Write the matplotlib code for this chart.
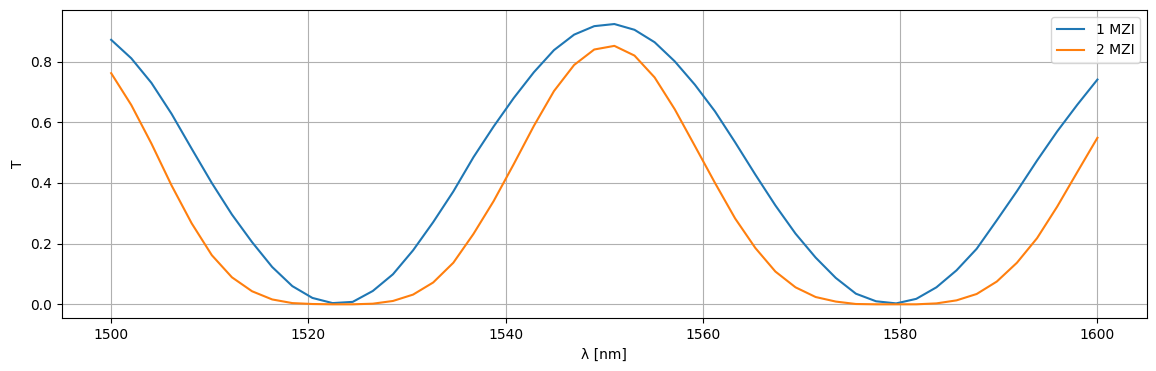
import matplotlib
matplotlib.use("Agg")
import matplotlib.pyplot as plt
import numpy as np

# wavelength grid, 50 samples 1500..1600 nm
wl = np.linspace(1500, 1600, 50)

t_1mzi = [0.872, 0.811, 0.730, 0.628, 0.513, 0.400, 0.296, 0.205, 0.123, 0.060,
          0.021, 0.004, 0.008, 0.044, 0.099, 0.178, 0.271, 0.372, 0.485, 0.586,
          0.680, 0.765, 0.838, 0.889, 0.917, 0.924, 0.905, 0.864, 0.801, 0.724,
          0.636, 0.534, 0.428, 0.326, 0.233, 0.154, 0.087, 0.035, 0.010, 0.003,
          0.018, 0.056, 0.112, 0.183, 0.277, 0.373, 0.474, 0.570, 0.658, 0.741]

t_2mzi = [0.762, 0.657, 0.530, 0.392, 0.267, 0.162, 0.089, 0.043, 0.016, 0.004,
          0.001, 0.000, 0.000, 0.002, 0.011, 0.032, 0.072, 0.137, 0.232, 0.340,
          0.462, 0.588, 0.703, 0.789, 0.840, 0.852, 0.820, 0.748, 0.643, 0.522,
          0.400, 0.283, 0.186, 0.108, 0.056, 0.024, 0.009, 0.001, 0.000, 0.000,
          0.000, 0.003, 0.013, 0.034, 0.075, 0.137, 0.218, 0.322, 0.436, 0.549]

fig = plt.figure(figsize=(11.56, 3.71), dpi=100)
plt.plot(wl, t_1mzi, label='1 MZI')
plt.plot(wl, t_2mzi, label='2 MZI')
plt.xlabel("λ [nm]")
plt.ylabel("T")
plt.legend()
plt.grid()
plt.subplots_adjust(left=0.0535, right=0.992, top=0.973, bottom=0.142)
plt.savefig("out.png", dpi=100)
